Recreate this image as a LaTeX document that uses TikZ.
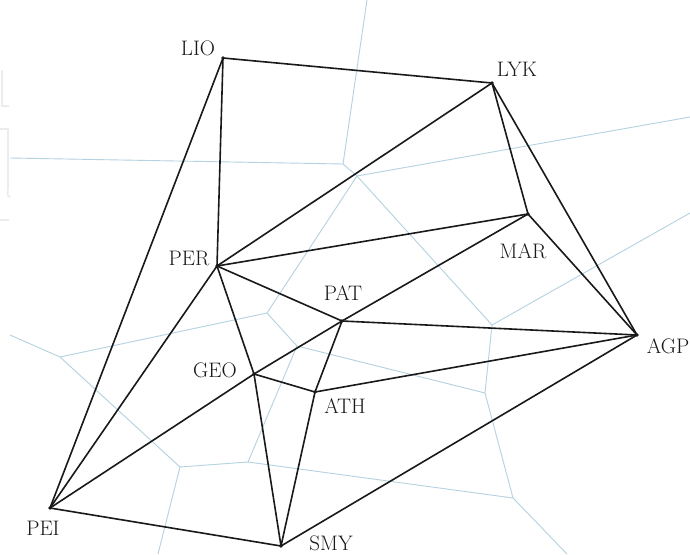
\documentclass[tikz,border=0pt]{standalone}
\usepackage{tikz}
\begin{document}
\definecolor{voro}{RGB}{180,210,224}
\definecolor{wmark}{RGB}{234,236,238}
\definecolor{edgec}{RGB}{25,25,25}
\begin{tikzpicture}[x=1pt,y=-1pt,
  vline/.style={draw=voro,line width=0.9pt},
  dline/.style={draw=edgec,line width=1.6pt},
  wline/.style={draw=wmark,line width=1.6pt},
  lbl/.style={anchor=base,inner sep=0pt,font=\fontsize{21}{24}\selectfont,text=edgec},
  dotc/.style={fill=edgec}]
\useasboundingbox (0,0) rectangle (690,554);
\fill[white] (0,0) rectangle (690,554);
% faint watermark remnants
\draw[wline] (2,70) -- (2,106) -- (9,106);
\draw[wline] (0,129) -- (9,129);
\draw[wline] (8,129) -- (8,188) to[out=-90,in=180] (10,197);
\draw[wline] (0,220) -- (9,220);
% Voronoi vertices
\coordinate (vA) at (343,164);
\coordinate (vB) at (357,176);
\coordinate (vC) at (267,313);
\coordinate (vD) at (297,346);
\coordinate (vE) at (485,393);
\coordinate (vF) at (248,462);
\coordinate (vG) at (492,325);
\coordinate (vH) at (513,498);
\coordinate (vI) at (60,357);
\coordinate (vJ) at (180,467);
\coordinate (eA1) at (10,158);
\coordinate (eA2) at (367,0);
\coordinate (eB) at (690,117);
\coordinate (eG) at (690,213);
\coordinate (eH) at (567,554);
\coordinate (eI) at (10,335);
\coordinate (eJ) at (158,554);
\draw[vline] (eA1) -- (vA) -- (eA2);
\draw[vline] (vA) -- (vB) -- (eB);
\draw[vline] (vB) -- (vC);
\draw[vline] (vB) -- (vG) -- (eG);
\draw[vline] (vC) -- (vI) -- (eI);
\draw[vline] (vC) -- (vD) -- (vE);
\draw[vline] (vD) -- (vF);
\draw[vline] (vG) -- (vE) -- (vH) -- (eH);
\draw[vline] (vF) -- (vJ);
\draw[vline] (vF) -- (vH);
\draw[vline] (vI) -- (vJ) -- (eJ);
% Sites
\coordinate (LIO) at (223,58);
\coordinate (LYK) at (492,83);
\coordinate (PER) at (217,266);
\coordinate (MAR) at (528,214);
\coordinate (PAT) at (342,321);
\coordinate (AGP) at (637,335);
\coordinate (GEO) at (254,374);
\coordinate (ATH) at (315,392);
\coordinate (PEI) at (50,508);
\coordinate (SMY) at (281,546);
% Delaunay edges
\draw[dline] (LIO) -- (LYK);
\draw[dline] (LIO) -- (PER);
\draw[dline] (LIO) -- (PEI);
\draw[dline] (LYK) -- (PER);
\draw[dline] (LYK) -- (MAR);
\draw[dline] (LYK) -- (AGP);
\draw[dline] (PER) -- (MAR);
\draw[dline] (PER) -- (PAT);
\draw[dline] (PER) -- (GEO);
\draw[dline] (PER) -- (PEI);
\draw[dline] (MAR) -- (AGP);
\draw[dline] (MAR) -- (PAT);
\draw[dline] (PAT) -- (GEO);
\draw[dline] (PAT) -- (AGP);
\draw[dline] (PAT) -- (ATH);
\draw[dline] (GEO) -- (ATH);
\draw[dline] (GEO) -- (SMY);
\draw[dline] (GEO) -- (PEI);
\draw[dline] (ATH) -- (AGP);
\draw[dline] (ATH) -- (SMY);
\draw[dline] (PEI) -- (SMY);
\draw[dline] (SMY) -- (AGP);
\foreach \p in {LIO,LYK,PER,MAR,PAT,AGP,GEO,ATH,PEI,SMY}
  \fill[dotc] (\p) circle (1.8);
% Labels
\node[lbl] (lLIO) at (198,55) {LIO};
\node[lbl] (lLYK) at (517,76) {LYK};
\node[lbl] (lPER) at (189,265) {PER};
\node[lbl] (lMAR) at (523,258) {MAR};
\node[lbl] (lPAT) at (343,300) {PAT};
\node[lbl] (lAGP) at (668,353) {AGP};
\node[lbl] (lGEO) at (215,377) {GEO};
\node[lbl] (lATH) at (345,413) {ATH};
\node[lbl] (lPEI) at (43,535) {PEI};
\node[lbl] (lSMY) at (331,550) {SMY};
\end{tikzpicture}
\end{document}
